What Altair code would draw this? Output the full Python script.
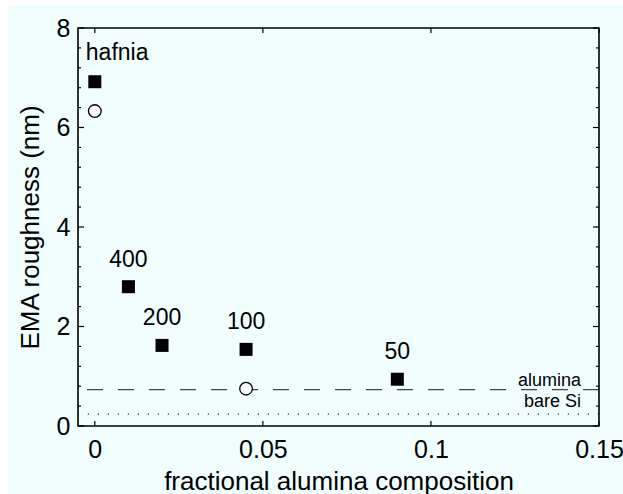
import altair as alt
import pandas as pd

# ---- data ----
sq_x = [0.0, 0.01, 0.02, 0.045, 0.09]
sq_y = [6.92, 2.80, 1.62, 1.54, 0.94]
sq_labels = ["hafnia", "400", "200", "100", "50"]

circ_x = [0.0, 0.045]
circ_y = [6.33, 0.75]

ref_names = ["alumina", "bare Si"]
ref_y = [0.73, 0.24]

x_ticks = [0, 0.05, 0.1, 0.15]
y_major = [0, 2, 4, 6, 8]
y_minor = [0.4, 0.8, 1.2, 1.6, 2.4, 2.8, 3.2, 3.6, 4.4, 4.8, 5.2, 5.6, 6.4, 6.8, 7.2, 7.6]

W, H = 521, 398
FONT = "Liberation Sans"
BG = "#F0FEFE"

sq = pd.DataFrame({"x": sq_x, "y": sq_y, "label": sq_labels})
circ = pd.DataFrame({"x": circ_x, "y": circ_y})
refs = pd.DataFrame({"name": ref_names, "y": ref_y})
xt = pd.DataFrame({"x": x_ticks})
ymaj = pd.DataFrame({"y": y_major})
ymin = pd.DataFrame({"y": y_minor})
one = pd.DataFrame({"a": [0]})

xscale = alt.Scale(domain=[-0.005, 0.15], nice=False, zero=False)
yscale = alt.Scale(domain=[0, 8], nice=False)

xaxis = alt.Axis(values=x_ticks, labelExpr="'' + datum.value", title="fractional alumina composition",
                 labelPadding=11, titlePadding=6, zindex=2, labelFlush=False, labelOverlap=False)
yaxis = alt.Axis(values=y_major, labelExpr="'' + datum.value", title="EMA roughness (nm)",
                 labelPadding=8, titlePadding=13, zindex=2, labelFlush=False)

bg = alt.Chart(one).mark_rect(color=BG).encode(
    x=alt.value(-70), x2=alt.value(W + 24), y=alt.value(-23), y2=alt.value(H + 68)
)

squares = alt.Chart(sq).mark_point(
    shape="square", filled=True, color="black", size=169, opacity=1
).encode(x=alt.X("x:Q", scale=xscale, axis=xaxis), y=alt.Y("y:Q", scale=yscale, axis=yaxis))

dashed = alt.Chart(refs).transform_filter("datum.name == 'alumina'").mark_rule(
    color="#444444", strokeWidth=1.2, strokeDash=[16, 15]
).encode(y=alt.Y("y:Q", scale=yscale))

dotted = alt.Chart(refs).transform_filter("datum.name == 'bare Si'").mark_rule(
    color="#333333", strokeWidth=1.2, strokeDash=[1.2, 8.8]
).encode(y=alt.Y("y:Q", scale=yscale))

ref_text_al = alt.Chart(refs).transform_filter("datum.name == 'alumina'").mark_text(
    align="right", baseline="alphabetic", font=FONT, fontSize=18, color="black", dx=-18, dy=-4
).encode(x=alt.value(W), y=alt.Y("y:Q", scale=yscale), text="name:N")

ref_text_si = alt.Chart(refs).transform_filter("datum.name == 'bare Si'").mark_text(
    align="right", baseline="alphabetic", font=FONT, fontSize=18, color="black", dx=-18, dy=-7
).encode(x=alt.value(W), y=alt.Y("y:Q", scale=yscale), text="name:N")

circles = alt.Chart(circ).mark_point(
    shape="circle", filled=True, fill="white", stroke="black", strokeWidth=1.3, size=160, opacity=1
).encode(x=alt.X("x:Q", scale=xscale), y=alt.Y("y:Q", scale=yscale))

lab_h = alt.Chart(sq).transform_filter("datum.label == 'hafnia'").mark_text(
    align="left", baseline="alphabetic", font=FONT, fontSize=23, color="black", dx=-9, dy=-22
).encode(x=alt.X("x:Q", scale=xscale), y=alt.Y("y:Q", scale=yscale), text="label:N")

lab_n = alt.Chart(sq).transform_filter("datum.label != 'hafnia'").mark_text(
    align="center", baseline="alphabetic", font=FONT, fontSize=23, color="black", dy=-20
).encode(x=alt.X("x:Q", scale=xscale), y=alt.Y("y:Q", scale=yscale), text="label:N")

# inward ticks on all four sides
tick_style = dict(color="black", strokeWidth=1.2)
left_major = alt.Chart(ymaj).mark_rule(**tick_style).encode(
    y=alt.Y("y:Q", scale=yscale), x=alt.value(0), x2=alt.value(6))
left_minor = alt.Chart(ymin).mark_rule(**tick_style).encode(
    y=alt.Y("y:Q", scale=yscale), x=alt.value(0), x2=alt.value(3))
right_major = alt.Chart(ymaj).mark_rule(**tick_style).encode(
    y=alt.Y("y:Q", scale=yscale), x=alt.value(W), x2=alt.value(W - 6))
right_minor = alt.Chart(ymin).mark_rule(**tick_style).encode(
    y=alt.Y("y:Q", scale=yscale), x=alt.value(W), x2=alt.value(W - 3))
bottom_ticks = alt.Chart(xt).mark_rule(**tick_style).encode(
    x=alt.X("x:Q", scale=xscale), y=alt.value(H), y2=alt.value(H - 5))
top_ticks = alt.Chart(xt).mark_rule(**tick_style).encode(
    x=alt.X("x:Q", scale=xscale), y=alt.value(0), y2=alt.value(5))

frame = alt.Chart(one).mark_rect(fillOpacity=0, stroke="black", strokeWidth=1.6).encode(
    x=alt.value(0), x2=alt.value(W), y=alt.value(0), y2=alt.value(H)
)

chart = alt.layer(
    bg, squares, dashed, dotted, ref_text_al, ref_text_si, circles, lab_h, lab_n,
    left_major, left_minor, right_major, right_minor, bottom_ticks, top_ticks, frame
).properties(
    width=W, height=H,
    autosize=alt.AutoSizeParams(type="none"),
    padding={"left": 78, "top": 28, "right": 24, "bottom": 68},
).configure(
    background="white"
).configure_view(
    stroke=None
).configure_axis(
    grid=False, ticks=False, domain=False,
    labelFont=FONT, labelFontSize=25, labelColor="black",
    titleFont=FONT, titleFontSize=26, titleFontWeight="normal", titleColor="black",
)

chart.save("out.html", embed_options={"renderer": "svg", "actions": False})
